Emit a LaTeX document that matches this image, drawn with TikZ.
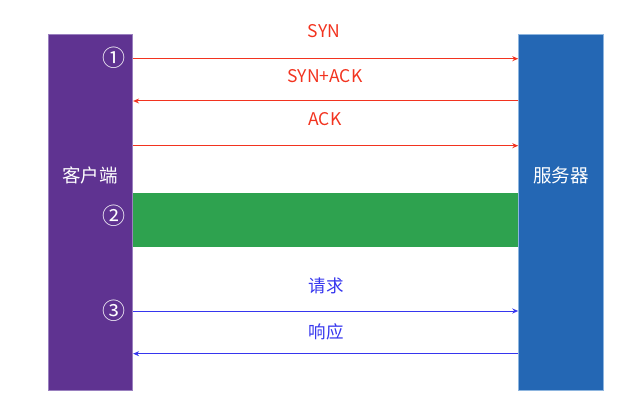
\documentclass[tikz,border=0pt]{standalone}
\usepackage{fontspec}
\setmainfont{Noto Sans CJK SC}
\usetikzlibrary{arrows.meta}
\definecolor{cpurple}{HTML}{5F3391}
\definecolor{cpurpleedge}{HTML}{9A80BF}
\definecolor{cblue}{HTML}{2467B4}
\definecolor{cblueedge}{HTML}{8DB5DF}
\definecolor{cgreen}{HTML}{2EA24F}
\definecolor{cred}{HTML}{F2331F}
\definecolor{carrblue}{HTML}{3636EE}
\tikzset{
  pillar/.style={rectangle, minimum width=84.7pt, minimum height=355.7pt, inner sep=0pt, line width=0.8pt},
  boxlabel/.style={text=white, font=\fontsize{18.5}{20}\selectfont, inner sep=0pt},
  numlabel/.style={text=white, font=\fontsize{23}{25}\selectfont\addfontfeatures{FakeBold=0}, inner sep=0pt},
  redarrow/.style={draw=cred, line width=1pt, -{Stealth[length=6pt,width=5pt]}},
  bluearrow/.style={draw=carrblue, line width=1pt, -{Stealth[length=6pt,width=5pt]}},
  redtext/.style={text=cred, font=\fontsize{17.5}{19}\selectfont, inner sep=0pt},
  bluetext/.style={text=carrblue, font=\fontsize{17.5}{19}\selectfont, inner sep=0pt},
}
\begin{document}
\begin{tikzpicture}[x=1pt,y=-1pt]
\useasboundingbox (0,0) rectangle (637,406);
\node[pillar, fill=cpurple, draw=cpurpleedge] (client) at (90.35,212.15) {};
\node[pillar, fill=cblue, draw=cblueedge] (server) at (561,212.15) {};
\node[boxlabel] (clientlabel) at (90,175.5) {客户端};
\node[boxlabel] (serverlabel) at (561,175.5) {服务器};
\node[numlabel] (n1) at (114,57.7) {①};
\node[numlabel] (n2) at (114,215.7) {②};
\node[numlabel] (n3) at (114,310.7) {③};
% green bar
\fill[cgreen] (client.east |- 0,193.3) rectangle (server.west |- 0,246.7);
% connectors
\coordinate (a1l) at (client.east |- 0,58.7);
\coordinate (a1r) at (server.west |- 0,58.7);
\coordinate (a2l) at (client.east |- 0,101);
\coordinate (a2r) at (server.west |- 0,101);
\coordinate (a3l) at (client.east |- 0,145.7);
\coordinate (a3r) at (server.west |- 0,145.7);
\coordinate (b1l) at (client.east |- 0,311);
\coordinate (b1r) at (server.west |- 0,311);
\coordinate (b2l) at (client.east |- 0,353.7);
\coordinate (b2r) at (server.west |- 0,353.7);
\draw[redarrow] (a1l) -- (a1r);
\draw[redarrow] (a2r) -- (a2l);
\draw[redarrow] (a3l) -- (a3r);
\draw[bluearrow] (b1l) -- (b1r);
\draw[bluearrow] (b2r) -- (b2l);
\node[redtext] (syn) at (324,31.5) {SYN};
\node[redtext] (synack) at (325,76.5) {SYN+ACK};
\node[redtext] (ack) at (325,119.5) {ACK};
\node[bluetext] (req) at (326,285.5) {请求};
\node[bluetext] (resp) at (326,332) {响应};
\end{tikzpicture}
\end{document}
